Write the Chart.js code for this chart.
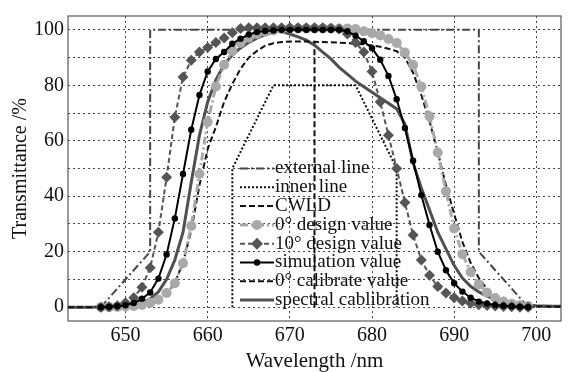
<!DOCTYPE html>
<html><head><meta charset="utf-8">
<script src="https://cdn.jsdelivr.net/npm/chart.js@4/dist/chart.umd.min.js"></script>
<style>html,body{margin:0;padding:0;background:#fff}#c{display:block}</style>
</head><body>
<canvas id="c" width="573" height="372"></canvas>
<script>
// ---- data ----
const wlFull = [643,644,645,646,647,648,649,650,651,652,653,654,655,656,657,658,659,660,661,662,663,664,665,666,667,668,669,670,671,672,673,674,675,676,677,678,679,680,681,682,683,684,685,686,687,688,689,690,691,692,693,694,695,696,697,698,699,700,701,702,703];
const wlMark = [647,648,649,650,651,652,653,654,655,656,657,658,659,660,661,662,663,664,665,666,667,668,669,670,671,672,673,674,675,676,677,678,679,680,681,682,683,684,685,686,687,688,689,690,691,692,693,694,695,696,697,698,699];

const externalX = [647,653,653,693,693,699];
const externalY = [0,20,100,100,20,0];
const innerX = [663,663,668,678,683,683];
const innerY = [0,50,80,80,50,0];
const cwldX = [673,673];
const cwldY = [0,95.7];

const design0 = [0,0,0.1,0.2,0.4,0.8,1.6,2.7,5.1,8.6,15.8,29.3,48,66.8,79.6,87.4,92.4,95.3,97.2,98.5,99.3,99.8,100.3,100.5,100.5,100.5,100.5,100.5,100.5,100.5,100.5,100.3,99.5,98.8,98,96.7,95.3,91.8,87.3,79.6,68.8,55.8,41.8,28.4,19.1,12.7,8.2,5.3,3.3,2,1.2,0.7,0.4];
const design10 = [0,0.1,0.5,1.6,3.4,7.2,14.2,27,46.8,68.5,83,89,92,93.6,95.4,97.1,99,100.5,100.8,100.8,100.8,100.8,100.8,100.8,100.8,100.8,100.8,100.8,100.6,100.3,98.5,95.4,92,85,74,62,50,37.7,26,17,11.5,7.4,5.1,3.4,2.2,1.4,0.9,0.6,0.4,0.2,0.1,0,0];
const simulation = [0,0.1,0.3,0.7,1.5,3,5.3,10.3,19,32,48,64,76.5,85,89.5,92,95,96.8,98.3,99.2,99.6,99.8,100,100,100,100,100,100,100,100,99.5,97.9,95.9,93.4,89.2,83.4,75,64.6,52.8,40.4,29.6,20,13.3,8.6,5.6,3.4,2,1.3,0.8,0.5,0.3,0.1,0];
const calibrate0 = [0,0,0,0,0.1,0.1,0.2,0.3,0.5,0.8,1.3,2.4,4.5,8.8,16,27.5,44,57,65,74,80.5,86,90,92.4,94.3,95.2,95.6,95.8,95.8,95.8,95.7,95.6,95.5,95.4,95.2,95,94.8,94.4,93.9,93.2,92.3,90,84.5,76.5,67,56,44,33.6,23.5,16,10.5,6.5,3.8,2.3,1.4,0.8,0.5,0.3,0.2,0.1,0.1];
const spectral = [0,0,0,0,0.1,0.1,0.2,0.4,0.8,1.6,3,5.5,10,17,27,45,62,74,82,87.5,91,93.5,95.5,97,98.3,99.2,99.5,98.5,97.5,96.3,94.5,92,89.5,86.5,84,81.5,79.5,77.5,75.5,73.5,71.5,66,52,43,35,27,21,15,10.5,7.5,5.5,4,2.8,2,1.4,1,0.7,0.5,0.4,0.3,0.3];

const xTicks = [650,660,670,680,690,700];
const yTicks = [0,10,20,30,40,50,60,70,80,90,100];
const yLabels = [0,20,40,60,80,100];

function pts(xs, ys){ return xs.map((x,i)=>({x:x, y:ys[i]})); }

const FONT = "'Liberation Serif', 'Times New Roman', serif";
const DASHDOT = [8,3,2,3];

const datasets = [
  {label:'external line', data:pts(externalX,externalY), borderColor:'#474747', borderWidth:2, borderDash:DASHDOT, pointRadius:0, order:6, mk:null},
  {label:'inner line', data:pts(innerX,innerY), borderColor:'#111', borderWidth:2, borderDash:[2,2], pointRadius:0, order:6, mk:null},
  {label:'CWLD', data:pts(cwldX,cwldY), borderColor:'#111', borderWidth:2, borderDash:[6,3], pointRadius:0, order:6, mk:null},
  {label:'0° design value', data:pts(wlMark,design0), borderColor:'#a9a9a9', backgroundColor:'#a9a9a9', borderWidth:3, borderDash:DASHDOT, pointRadius:5, pointStyle:'circle', pointBorderWidth:0, order:4, mk:'circle'},
  {label:'10° design value', data:pts(wlMark,design10), borderColor:'#555', backgroundColor:'#555', borderWidth:2, borderDash:[5,3], pointRadius:5.5, pointStyle:'rectRot', pointBorderWidth:0, order:3, mk:'diamond'},
  {label:'simulation value', data:pts(wlMark,simulation), borderColor:'#000', backgroundColor:'#000', borderWidth:2, pointRadius:3.2, pointStyle:'circle', pointBorderWidth:0, order:2, mk:'dot'},
  {label:'0° calibrate value', data:pts(wlFull,calibrate0), borderColor:'#111', borderWidth:2, borderDash:[6,3], pointRadius:0, order:5, mk:null},
  {label:'spectral cablibration', data:pts(wlFull,spectral), borderColor:'#505050', borderWidth:3, pointRadius:0, order:5, mk:null}
];
datasets.forEach(d=>{ d.fill=false; d.tension=0; d.pointHoverRadius=d.pointRadius; });

const framePlugin = {
  id:'frame',
  beforeDatasetsDraw(chart){
    const {ctx, chartArea:a} = chart;
    ctx.save();
    ctx.strokeStyle='#5a5a5a'; ctx.lineWidth=1.2; ctx.setLineDash([]);
    ctx.strokeRect(a.left, a.top, a.right-a.left, a.bottom-a.top);
    ctx.restore();
  }
};

const legendPlugin = {
  id:'customLegend',
  afterDraw(chart){
    const ctx = chart.ctx;
    const x0 = 240, x1 = 274, tx = 275, y0 = 168.5, dy = 18.8;
    ctx.save();
    chart.data.datasets.forEach((ds,i)=>{
      const y = y0 + i*dy;
      ctx.beginPath();
      ctx.strokeStyle = ds.borderColor; ctx.lineWidth = ds.borderWidth;
      ctx.setLineDash(ds.borderDash || []);
      ctx.moveTo(x0,y); ctx.lineTo(x1,y); ctx.stroke();
      ctx.setLineDash([]);
      const mx = (x0+x1)/2;
      if (ds.mk==='circle'){ ctx.fillStyle=ds.backgroundColor; ctx.beginPath(); ctx.arc(mx,y,5,0,Math.PI*2); ctx.fill(); }
      if (ds.mk==='dot'){ ctx.fillStyle=ds.backgroundColor; ctx.beginPath(); ctx.arc(mx,y,3.2,0,Math.PI*2); ctx.fill(); }
      if (ds.mk==='diamond'){ ctx.fillStyle=ds.backgroundColor; ctx.beginPath(); ctx.moveTo(mx,y-6); ctx.lineTo(mx+6,y); ctx.lineTo(mx,y+6); ctx.lineTo(mx-6,y); ctx.closePath(); ctx.fill(); }
      ctx.fillStyle='#111'; ctx.font = '19px ' + FONT; ctx.textBaseline='middle'; ctx.textAlign='left';
      ctx.fillText(ds.label, tx, y);
    });
    ctx.restore();
  }
};

new Chart(document.getElementById('c'), {
  type:'line',
  data:{datasets:datasets},
  plugins:[framePlugin, legendPlugin],
  options:{
    responsive:false, animation:false, devicePixelRatio:1,
    layout:{padding:{top:6,right:12,left:0,bottom:0}},
    plugins:{legend:{display:false}, tooltip:{enabled:false}},
    scales:{
      x:{type:'linear', min:643, max:703,
        afterBuildTicks:(ax)=>{ ax.ticks = xTicks.map(v=>({value:v})); },
        afterFit:(ax)=>{ ax.height = 51; },
        grid:{color:'#444', lineWidth:1, drawTicks:false},
        border:{display:false, dash:[2,3]},
        ticks:{color:'#111', font:{family:FONT, size:20}, padding:3, maxRotation:0, callback:(v)=>String(v)},
        title:{display:true, text:'Wavelength /nm', color:'#111', font:{family:FONT, size:21, lineHeight:1}, padding:{top:0,bottom:0}}
      },
      y:{type:'linear', min:-5, max:105,
        afterBuildTicks:(ax)=>{ ax.ticks = yTicks.map(v=>({value:v})); },
        afterFit:(ax)=>{ ax.width = 68; },
        grid:{color:'#444', lineWidth:1, drawTicks:false},
        border:{display:false, dash:[2,3]},
        ticks:{color:'#111', font:{family:FONT, size:20}, padding:4, callback:(v)=> yLabels.includes(v) ? String(v) : ''},
        title:{display:true, text:'Transmittance /%', color:'#111', font:{family:FONT, size:20}, padding:{top:9,bottom:0}}
      }
    }
  }
});
</script>
</body></html>
